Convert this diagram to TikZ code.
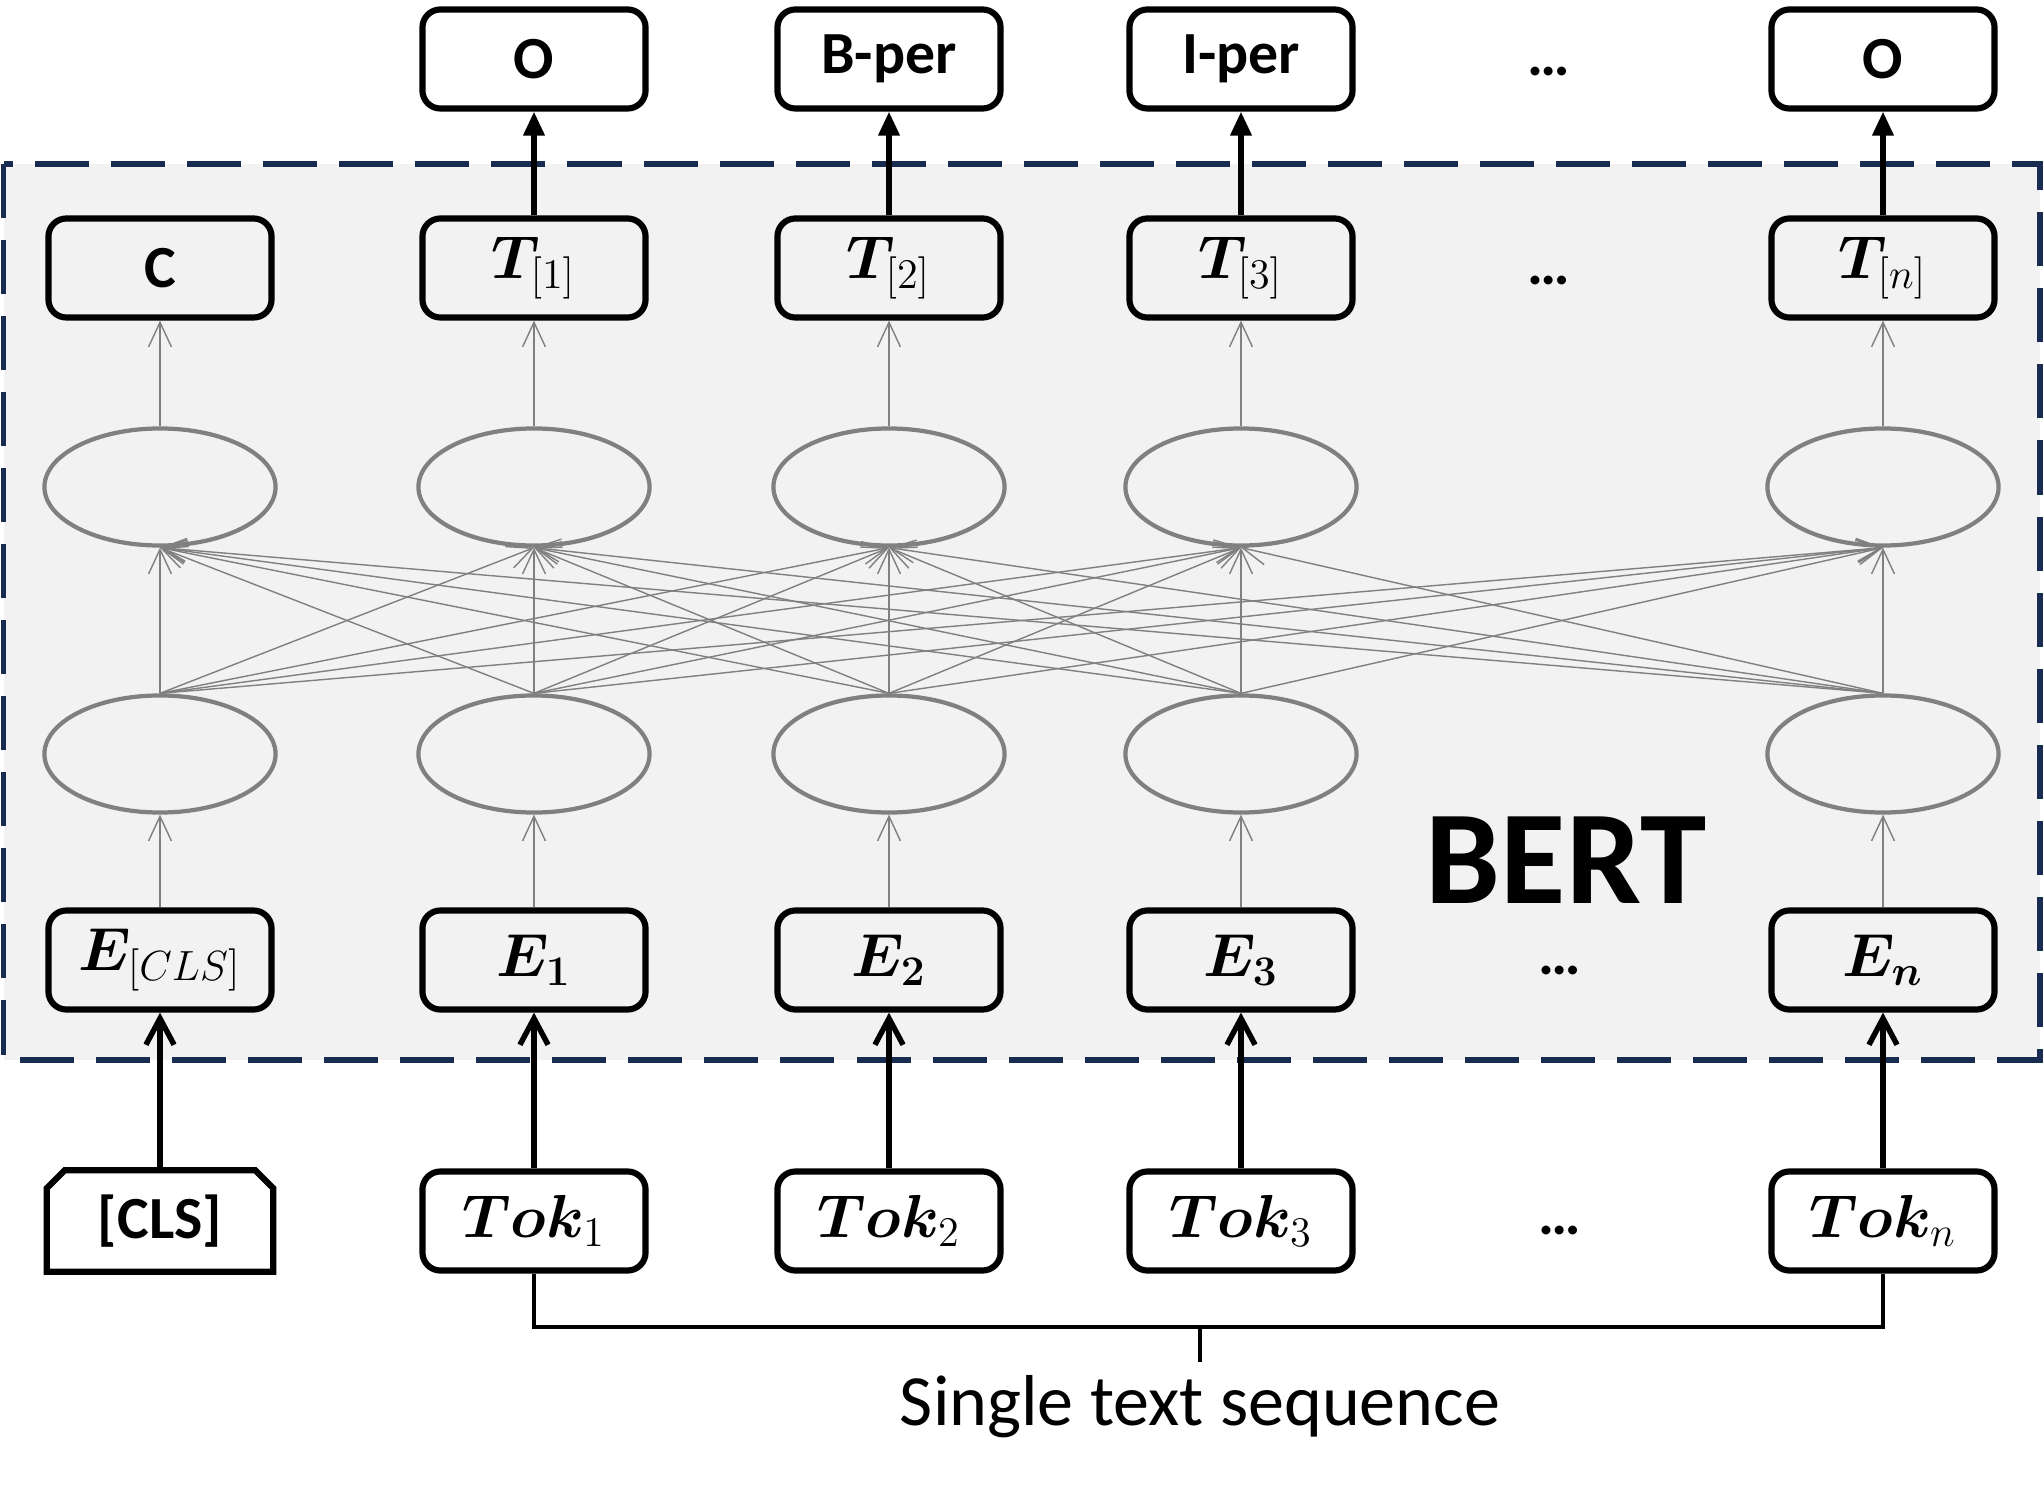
\documentclass[tikz,border=0pt]{standalone}
\usepackage{fontspec}
\setmainfont{Carlito}
\usepackage{amsmath}
\usepackage{bm}
\usetikzlibrary{arrows.meta, shapes.geometric, calc}
\definecolor{bertEdge}{HTML}{182B50}
\definecolor{bertFill}{HTML}{F2F2F2}
\definecolor{layerGray}{HTML}{808080}

\begin{document}
\begin{tikzpicture}[x=0.01cm, y=-0.01cm,
  box/.style={draw, line width=1.75pt, rounded corners=0.18cm, minimum width=2.23cm, minimum height=0.99cm, inner sep=0pt, font=\fontsize{17}{20}\selectfont\bfseries},
  mbox/.style={box, font=\fontsize{17.5}{20}\selectfont},
  unit/.style={ellipse, draw=layerGray, line width=1.2pt, minimum width=2.31cm, minimum height=1.17cm, inner sep=0pt},
  dots/.style={font=\fontsize{17}{20}\selectfont\bfseries, anchor=base, inner sep=0pt},
  conn/.style={draw=layerGray, line width=0.4pt, -{Straight Barb[length=7pt,width=6.5pt]}},
  feed/.style={line width=1.55pt, -{Straight Barb[length=7.5pt,width=8pt]}},
  emit/.style={line width=1.55pt, -{Triangle[length=6.8pt,width=5.8pt]}}]
\useasboundingbox (0,0) rectangle (2044,1488);
\draw[bertEdge, fill=bertFill, line width=1.6pt, dash pattern=on 0.54cm off 0.22cm] (3.5,164) rectangle (2040,1060);
\node[box] (o1) at (534,59) {O};
\node[box] (o2) at (889,59) {B-per};
\node[box] (o3) at (1241,59) {I-per};
\node[dots] (od) at (1549,76) {…};
\node[box] (o5) at (1883,59) {O};
\node[box] (t0) at (160,268) {C};
\node[mbox] (t1) at (534,268) {$\bm{T}_{[1]}$};
\node[mbox] (t2) at (889,268) {$\bm{T}_{[2]}$};
\node[mbox] (t3) at (1241,268) {$\bm{T}_{[3]}$};
\node[dots] (td) at (1549,285) {…};
\node[mbox] (t5) at (1883,268) {$\bm{T}_{[n]}$};
\node[unit] (u0) at (160,487) {}; \node[unit] (u1) at (534,487) {}; \node[unit] (u2) at (889,487) {}; \node[unit] (u3) at (1241,487) {}; \node[unit] (u5) at (1883,487) {};
\node[unit] (l0) at (160,754) {}; \node[unit] (l1) at (534,754) {}; \node[unit] (l2) at (889,754) {}; \node[unit] (l3) at (1241,754) {}; \node[unit] (l5) at (1883,754) {};
\node[mbox] (e0) at (160,960) {$\bm{E}_{[CLS]}$};
\node[mbox] (e1) at (534,960) {$\bm{E}_{\bm{1}}$};
\node[mbox] (e2) at (889,960) {$\bm{E}_{\bm{2}}$};
\node[mbox] (e3) at (1241,960) {$\bm{E}_{\bm{3}}$};
\node[dots] (ed) at (1560,974) {…};
\node[mbox] (e5) at (1883,960) {$\bm{E}_{\bm{n}}$};
\node[font=\fontsize{38}{40}\selectfont\bfseries, anchor=base, inner sep=0pt] (bert) at (1566,903) {BERT};
\node[minimum width=2.25cm, minimum height=1.0cm, inner sep=0pt, font=\fontsize{17}{20}\selectfont\bfseries] (k0) at (160,1221) {[CLS]};
\draw[line width=1.75pt] (k0.south west) -- ($(k0.north west)+(0,18)$) -- ($(k0.north west)+(18,0)$) -- ($(k0.north east)+(-18,0)$) -- ($(k0.north east)+(0,18)$) -- (k0.south east) -- cycle;
\node[mbox] (k1) at (534,1221) {$\bm{Tok}_1$};
\node[mbox] (k2) at (889,1221) {$\bm{Tok}_2$};
\node[mbox] (k3) at (1241,1221) {$\bm{Tok}_3$};
\node[dots] (kd) at (1560,1234) {…};
\node[mbox] (k5) at (1883,1221) {$\bm{Tok}_n$};
\node[font=\fontsize{20.5}{24}\selectfont, anchor=base] (seq) at (1200,1425) {Single text sequence};
\foreach \i in {0,1,2,3,5} {
  \foreach \j in {0,1,2,3,5} \draw[conn] (l\i.north) -- (u\j.south);
  \draw[conn] (e\i.north) -- (l\i.south);
  \draw[conn] (u\i.north) -- (t\i.south);
  \draw[feed] (k\i) -- (e\i);
}
\foreach \i in {1,2,3,5} \draw[emit] (t\i) -- (o\i);
\coordinate (mid) at (1200,1327);
\coordinate (tick) at (1200,1362);
\draw[line width=1.1pt] (k1.south) |- (mid) -| (k5.south);
\draw[line width=1.1pt] (mid) -- (tick);
\end{tikzpicture}
\end{document}
